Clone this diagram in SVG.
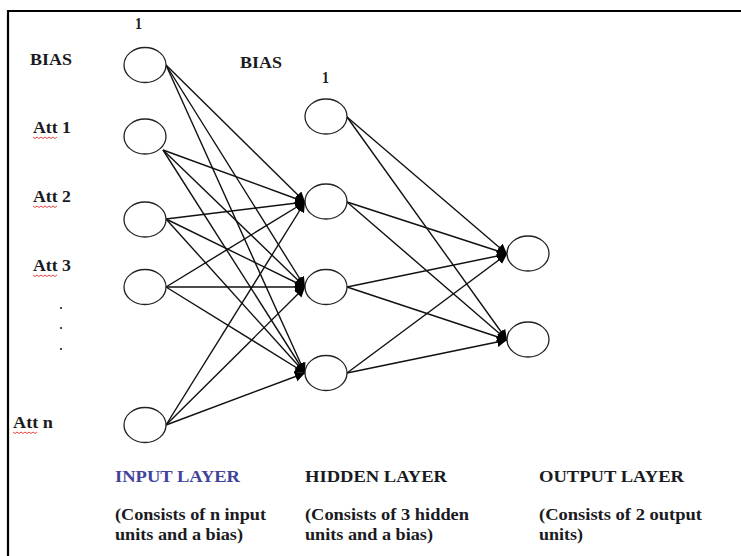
<svg xmlns="http://www.w3.org/2000/svg" width="741" height="556" viewBox="0 0 741 556">
<style>
.n{fill:#fff;stroke:#222;stroke-width:1.3}
.c line{stroke:#111;stroke-width:1.4}
.t{font-family:"Liberation Serif",serif;font-weight:bold;font-size:16.5px;fill:#1a1a22}
.b{fill:#43439a}
.sq{fill:none;stroke:#e03030;stroke-width:0.9}
</style>
<defs>
<marker id="ah" markerUnits="userSpaceOnUse" markerWidth="12" markerHeight="12" refX="10" refY="5" orient="auto">
<path d="M0,0 L10,5 L0,10 Z" fill="#000"/>
</marker>
</defs>
<rect width="741" height="556" fill="#fff"/>
<line x1="7" y1="11" x2="741" y2="11" stroke="#000" stroke-width="2.2"/>
<line x1="8" y1="10" x2="8" y2="556" stroke="#000" stroke-width="2.2"/>

<g class="c" id="connectors">
<line x1="166" y1="65" x2="305" y2="202" marker-end="url(#ah)"/>
<line x1="166" y1="65" x2="305" y2="287" marker-end="url(#ah)"/>
<line x1="166" y1="65" x2="305" y2="373" marker-end="url(#ah)"/>
<line x1="163" y1="150" x2="305" y2="202" marker-end="url(#ah)"/>
<line x1="163" y1="150" x2="305" y2="287" marker-end="url(#ah)"/>
<line x1="163" y1="150" x2="305" y2="373" marker-end="url(#ah)"/>
<line x1="166" y1="219" x2="305" y2="202" marker-end="url(#ah)"/>
<line x1="166" y1="219" x2="305" y2="287" marker-end="url(#ah)"/>
<line x1="166" y1="219" x2="305" y2="373" marker-end="url(#ah)"/>
<line x1="166" y1="287" x2="305" y2="202" marker-end="url(#ah)"/>
<line x1="166" y1="287" x2="305" y2="287" marker-end="url(#ah)"/>
<line x1="166" y1="287" x2="305" y2="373" marker-end="url(#ah)"/>
<line x1="166" y1="425" x2="305" y2="202" marker-end="url(#ah)"/>
<line x1="166" y1="425" x2="305" y2="287" marker-end="url(#ah)"/>
<line x1="166" y1="425" x2="305" y2="373" marker-end="url(#ah)"/>
<line x1="347" y1="117" x2="507" y2="254" marker-end="url(#ah)"/>
<line x1="347" y1="117" x2="507" y2="340" marker-end="url(#ah)"/>
<line x1="347" y1="202" x2="507" y2="254" marker-end="url(#ah)"/>
<line x1="347" y1="202" x2="507" y2="340" marker-end="url(#ah)"/>
<line x1="347" y1="287" x2="507" y2="254" marker-end="url(#ah)"/>
<line x1="347" y1="287" x2="507" y2="340" marker-end="url(#ah)"/>
<line x1="347" y1="373" x2="507" y2="254" marker-end="url(#ah)"/>
<line x1="347" y1="373" x2="507" y2="340" marker-end="url(#ah)"/>
</g>

<g id="in-bias"><ellipse class="n" cx="145" cy="65" rx="21" ry="17.5"/></g>
<g id="in-att1"><ellipse class="n" cx="145" cy="136.5" rx="21" ry="17.5"/></g>
<g id="in-att2"><ellipse class="n" cx="145" cy="219.5" rx="21" ry="17.5"/></g>
<g id="in-att3"><ellipse class="n" cx="145" cy="287" rx="21" ry="17.5"/></g>
<g id="in-attn"><ellipse class="n" cx="145" cy="425" rx="21" ry="17.5"/></g>
<g id="hid-bias"><ellipse class="n" cx="326" cy="116.5" rx="21" ry="17.5"/></g>
<g id="hid-1"><ellipse class="n" cx="326" cy="201.5" rx="21" ry="17.5"/></g>
<g id="hid-2"><ellipse class="n" cx="326" cy="287" rx="21" ry="17.5"/></g>
<g id="hid-3"><ellipse class="n" cx="326" cy="373" rx="21" ry="17.5"/></g>
<g id="out-1"><ellipse class="n" cx="528" cy="253.5" rx="21" ry="17.5"/></g>
<g id="out-2"><ellipse class="n" cx="528" cy="339.5" rx="21" ry="17.5"/></g>

<g id="labels">
<text class="t" x="135" y="29" textLength="7" lengthAdjust="spacingAndGlyphs">1</text>
<text class="t" x="30" y="65" textLength="42" lengthAdjust="spacingAndGlyphs">BIAS</text>
<text class="t" x="240" y="68" textLength="42" lengthAdjust="spacingAndGlyphs">BIAS</text>
<text class="t" x="322" y="83" textLength="7" lengthAdjust="spacingAndGlyphs">1</text>
<text class="t" x="33" y="133" textLength="38" lengthAdjust="spacingAndGlyphs">Att 1</text>
<text class="t" x="33" y="202" textLength="38" lengthAdjust="spacingAndGlyphs">Att 2</text>
<text class="t" x="33" y="271" textLength="38" lengthAdjust="spacingAndGlyphs">Att 3</text>
<text class="t" x="13" y="428" textLength="40" lengthAdjust="spacingAndGlyphs">Att n</text>
<path class="sq" d="M33,137 l2,1.5 l2,-1.5 l2,1.5 l2,-1.5 l2,1.5 l2,-1.5 l2,1.5 l2,-1.5 l2,1.5 l2,-1.5 l2,1.5 l2,-1.5"/>
<path class="sq" d="M33,206 l2,1.5 l2,-1.5 l2,1.5 l2,-1.5 l2,1.5 l2,-1.5 l2,1.5 l2,-1.5 l2,1.5 l2,-1.5 l2,1.5 l2,-1.5"/>
<path class="sq" d="M33,275 l2,1.5 l2,-1.5 l2,1.5 l2,-1.5 l2,1.5 l2,-1.5 l2,1.5 l2,-1.5 l2,1.5 l2,-1.5 l2,1.5 l2,-1.5"/>
<path class="sq" d="M13,432 l2,1.5 l2,-1.5 l2,1.5 l2,-1.5 l2,1.5 l2,-1.5 l2,1.5 l2,-1.5 l2,1.5 l2,-1.5 l2,1.5 l2,-1.5"/>
<circle cx="61" cy="308" r="1.1" fill="#222"/>
<circle cx="61" cy="328" r="1.1" fill="#222"/>
<circle cx="61" cy="349" r="1.1" fill="#222"/>
<text class="t b" x="115" y="482" textLength="125" lengthAdjust="spacingAndGlyphs">INPUT LAYER</text>
<text class="t" x="305" y="482" textLength="142" lengthAdjust="spacingAndGlyphs">HIDDEN LAYER</text>
<text class="t" x="539" y="482" textLength="145" lengthAdjust="spacingAndGlyphs">OUTPUT LAYER</text>
<text class="t" x="115" y="520" textLength="151" lengthAdjust="spacingAndGlyphs">(Consists of n input</text>
<text class="t" x="115" y="540" textLength="128" lengthAdjust="spacingAndGlyphs">units and a bias)</text>
<text class="t" x="305" y="520" textLength="164" lengthAdjust="spacingAndGlyphs">(Consists of 3 hidden</text>
<text class="t" x="305" y="540" textLength="128" lengthAdjust="spacingAndGlyphs">units and a bias)</text>
<text class="t" x="539" y="520" textLength="163" lengthAdjust="spacingAndGlyphs">(Consists of 2 output</text>
<text class="t" x="539" y="540" textLength="44" lengthAdjust="spacingAndGlyphs">units)</text>
</g>
</svg>
